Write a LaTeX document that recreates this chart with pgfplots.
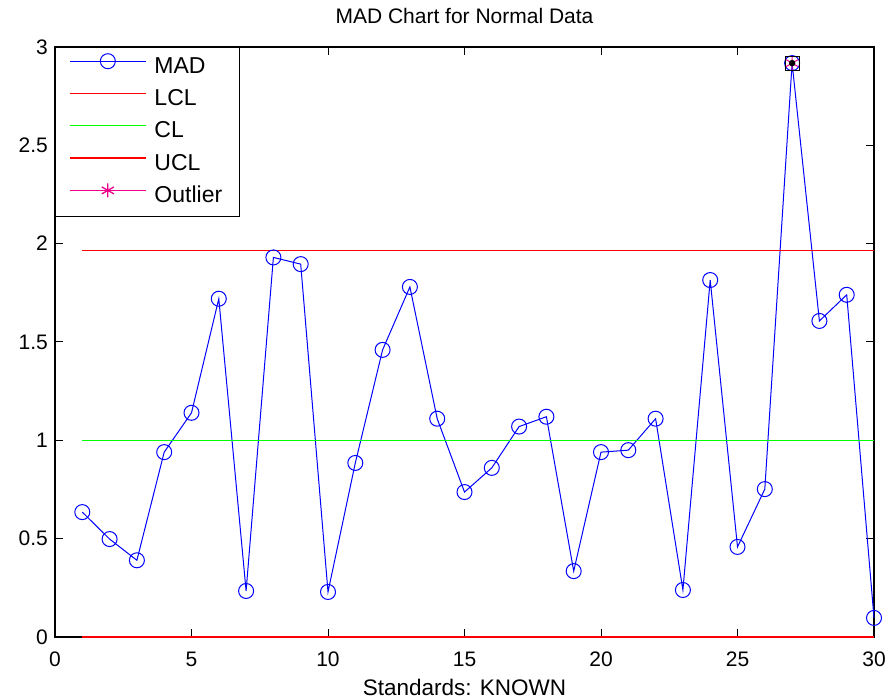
\documentclass[border=0pt]{standalone}
\usepackage{fontspec}
\setmainfont{Liberation Sans}
\usepackage{pgfplots}
\pgfplotsset{compat=1.18}
\begin{document}
\fontsize{21}{25}\selectfont
\begin{tikzpicture}
\useasboundingbox (-55pt,-62pt) rectangle (836pt,637pt);
\begin{axis}[
  scale only axis,
  width=819pt, height=590pt,
  xmin=0, xmax=30, ymin=0, ymax=3,
  xtick={0,5,...,30},
  ytick={0,0.5,...,3},
  yticklabels={0,0.5,1,1.5,2,2.5,3},
  tick align=inside,
  major tick length=8pt,
  tick style={black, line width=1pt},
  axis line style={black, line width=1.2pt},
  /pgf/number format/assume math mode=true,
  ticklabel style={font=\fontsize{21}{25}\selectfont},
  xticklabel style={anchor=base, yshift=-29pt},
  clip=false,
  title={MAD Chart for Normal Data},
  title style={at={(axis description cs:0.5,1)}, anchor=base, yshift=17pt, font=\fontsize{21}{25}\selectfont},
  xlabel={Standards: KNOWN},
  xlabel style={at={(axis description cs:0.5,0)}, anchor=base, yshift=-58pt, font=\fontsize{22.5}{26}\selectfont},
  legend style={at={(0,1)}, anchor=north west,
    font=\fontsize{23}{27}\selectfont, inner xsep=14pt, inner ysep=6pt,
    nodes={inner sep=3pt, text height=17pt, text depth=5pt},
    row sep=4.3pt,
    /tikz/every odd column/.append style={column sep=5pt}},
  legend cell align=left,
  legend image code/.code={
    \draw[mark repeat=2,mark phase=2,#1,line width=1.3pt] plot coordinates {(0pt,6pt) (38pt,6pt) (76pt,6pt)};},
]
\addplot[color=blue, line width=1pt, mark=o, mark size=7.5pt, mark options={line width=1pt}] coordinates {
(1,0.635) (2,0.498) (3,0.39) (4,0.94) (5,1.14) (6,1.72) (7,0.234) (8,1.93) (9,1.896) (10,0.229)
(11,0.885) (12,1.46) (13,1.78) (14,1.11) (15,0.737) (16,0.86) (17,1.07) (18,1.12) (19,0.335) (20,0.94)
(21,0.95) (22,1.11) (23,0.239) (24,1.815) (25,0.458) (26,0.752) (27,2.918) (28,1.607) (29,1.74) (30,0.097)
};
\addlegendentry{MAD}
\addplot[color=red, line width=1.2pt] coordinates {(1,0) (30,0)};
\addlegendentry{LCL}
\addplot[color=green, line width=1pt] coordinates {(1,1) (30,1)};
\addlegendentry{CL}
\addplot[color=red, line width=1pt] coordinates {(1,1.967) (30,1.967)};
\addlegendentry{UCL}
\addplot[color=magenta, line width=1pt, mark=asterisk, mark size=7pt] coordinates {(27,2.918)};
\addlegendentry{Outlier}
\addplot[black, line width=1pt, only marks, mark=square, mark size=7pt, forget plot] coordinates {(27,2.918)};
\addplot[black, only marks, mark=*, mark size=3pt, forget plot] coordinates {(27,2.918)};
\end{axis}
\end{tikzpicture}
\end{document}
